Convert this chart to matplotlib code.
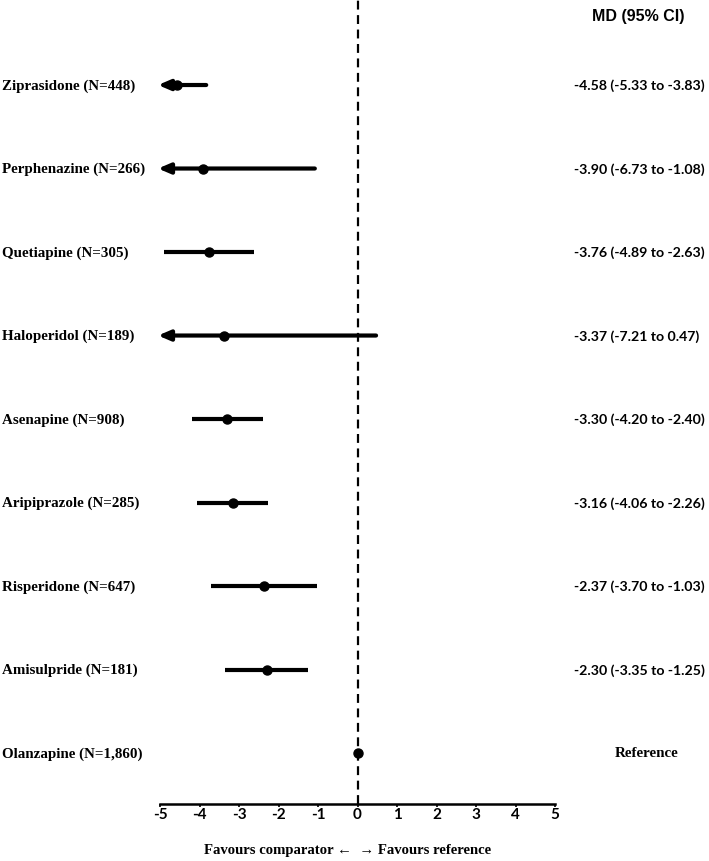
import matplotlib
matplotlib.use("Agg")
import matplotlib.pyplot as plt

labels = ["Ziprasidone (N=448)", "Perphenazine (N=266)", "Quetiapine (N=305)",
          "Haloperidol (N=189)", "Asenapine (N=908)", "Aripiprazole (N=285)",
          "Risperidone (N=647)", "Amisulpride (N=181)", "Olanzapine (N=1,860)"]
md = [-4.58, -3.90, -3.76, -3.37, -3.30, -3.16, -2.37, -2.30, 0.0]
lo = [-5.33, -6.73, -4.89, -7.21, -4.20, -4.06, -3.70, -3.35, None]
hi = [-3.83, -1.08, -2.63, 0.47, -2.40, -2.26, -1.03, -1.25, None]
ci_text = ["-4.58 (-5.33 to -3.83)", "-3.90 (-6.73 to -1.08)", "-3.76 (-4.89 to -2.63)",
           "-3.37 (-7.21 to 0.47)", "-3.30 (-4.20 to -2.40)", "-3.16 (-4.06 to -2.26)",
           "-2.37 (-3.70 to -1.03)", "-2.30 (-3.35 to -1.25)", "Reference"]
xticks = [-5, -4, -3, -2, -1, 0, 1, 2, 3, 4, 5]
xlim = (-5, 5)

fig = plt.figure(figsize=(7.09, 8.62), dpi=100)
ax = fig.add_axes([160/709, 1 - 805/862, 395/709, 805/862])
ax.set_xlim(*xlim)
ax.set_ylim(8.61, -1.03)

ax.axvline(0, color="black", lw=1.6, ls=(0, (4, 2.5)), zorder=1)

for i in range(len(labels)):
    y = i
    if lo[i] is not None:
        if lo[i] < xlim[0]:
            ax.annotate("", xy=(xlim[0] - 0.05, y), xytext=(hi[i], y),
                        arrowprops=dict(arrowstyle="-|>,head_length=0.7,head_width=0.3",
                                        lw=3, color="black", shrinkA=0, shrinkB=0,
                                        mutation_scale=10), zorder=2, annotation_clip=False)
        else:
            ax.plot([lo[i], hi[i]], [y, y], color="black", lw=3, solid_capstyle="butt", zorder=2)
    ax.plot(md[i], y, "o", color="black", ms=6.5, zorder=3)
    yf = 1 - (86 + i*83.5)/862
    ax.text(2/709, yf, labels[i], transform=fig.transFigure,
            ha="left", va="center", fontsize=10.8, fontweight="bold", family="Liberation Serif")
    if ci_text[i] == "Reference":
        ax.text(647/709, yf, ci_text[i], transform=fig.transFigure,
                ha="center", va="center", fontsize=10.8, fontweight="bold",
                family="Liberation Serif")
    else:
        ax.text(574/709, yf, ci_text[i], transform=fig.transFigure,
                ha="left", va="center", fontsize=10.2, fontweight="bold", family="Lato")

fig.text(638/709, 1 - 16/862, "MD (95% CI)", ha="center", va="center",
         fontsize=11.5, fontweight="bold", family="Liberation Sans")

for s in ["top", "right", "left"]:
    ax.spines[s].set_visible(False)
ax.spines["bottom"].set_linewidth(1.8)
ax.set_yticks([])
ax.set_xticks(xticks)
ax.set_xticklabels([str(t) for t in xticks], fontsize=11, fontweight="bold", family="Lato")
ax.tick_params(axis="x", length=2, width=1.2, pad=0.5)

fig.text(348/709, 1 - 851/862, "Favours comparator \u2190  \u2192 Favours reference",
         ha="center", va="center", fontsize=10.6, fontweight="bold", family="Liberation Serif")

fig.savefig("out.png", dpi=100)
